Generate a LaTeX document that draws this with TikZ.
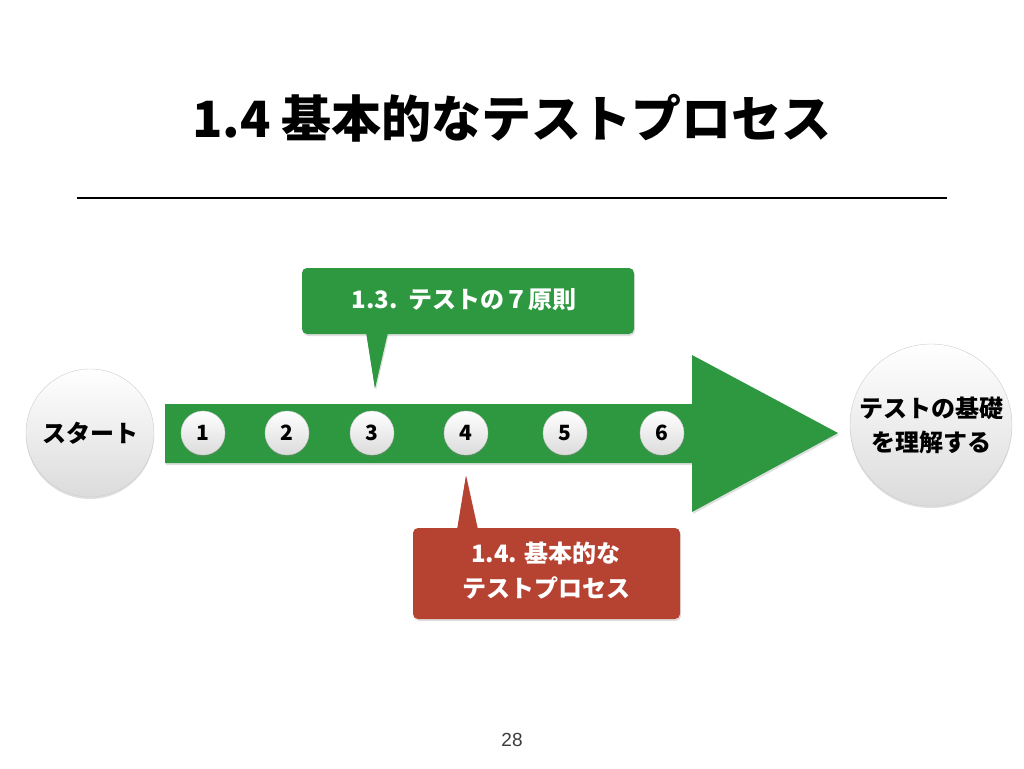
\documentclass[tikz,border=0pt]{standalone}
\usepackage{fontspec}
\setmainfont{Noto Sans CJK JP}
\newfontfamily\numfont{Liberation Sans}
\usetikzlibrary{shadows}
\definecolor{arrowgreen}{RGB}{46,152,64}
\definecolor{calloutred}{RGB}{182,66,50}
\definecolor{pagegray}{RGB}{60,60,60}
\tikzset{
  ball/.style={circle, draw=gray!40, line width=0.4pt, shading=axis, top color=white, bottom color=gray!28,
    drop shadow={opacity=0.25, shadow xshift=0pt, shadow yshift=-2pt}, font=\bfseries, text=black, align=center, inner sep=0pt},
  smallball/.style={ball, minimum size=44pt, font=\bfseries\fontsize{21}{23}\selectfont},
  bigtext/.style={font=\bfseries\fontsize{24}{34}\selectfont},
  callouttext/.style={text=white, font=\bfseries\fontsize{24}{35}\selectfont, align=center},
  shade box/.style={drop shadow={opacity=0.25, shadow xshift=1pt, shadow yshift=-2pt}}
}
\begin{document}
\begin{tikzpicture}[x=1pt,y=-1pt]
\useasboundingbox (0,0) rectangle (1024,768);
% title
\node (title) at (512,118) {\bfseries\fontsize{50}{56}\selectfont 1.4 基本的なテストプロセス};
\draw[line width=2pt] (77,198) -- (947,198);
% big arrow
\fill[arrowgreen, shade box] (165,404) -- (692,404) -- (692,355) -- (838,433) -- (692,512) -- (692,463) -- (165,463) -- cycle;
\coordinate (arrowtip) at (838,433);
% start and goal
\node[ball, minimum size=128pt, bigtext] (start) at (90,433) {スタート};
\node[ball, minimum size=162pt, bigtext] (goal) at (931,425) {テストの基礎\\を理解する};
% numbered steps
\node[smallball] (s1) at (203,433) {1};
\node[smallball] (s2) at (287,433) {2};
\node[smallball] (s3) at (372,433) {3};
\node[smallball] (s4) at (466,433) {4};
\node[smallball] (s5) at (565,433) {5};
\node[smallball] (s6) at (662,433) {6};
% green callout
\fill[arrowgreen, shade box] (366,332) -- (388,332) -- (375,388) -- cycle;
\fill[arrowgreen, rounded corners=5pt, shade box] (302,268) rectangle (634,334);
\fill[arrowgreen] (366,330) -- (388,330) -- (375,388) -- cycle;
\node[callouttext] (c13) at (464,300) {1.3.\ \ テストの７原則};
% red callout
\fill[calloutred, shade box] (457,530) -- (478,530) -- (466,476) -- cycle;
\fill[calloutred, rounded corners=5pt, shade box] (413,528) rectangle (680,619);
\fill[calloutred] (457,532) -- (478,532) -- (466,476) -- cycle;
\node[callouttext] (c14) at (546,571) {1.4. 基本的な\\テストプロセス};
% page number
\node[text=pagegray] (page) at (512,740) {\numfont\fontsize{19}{22}\selectfont 28};
\end{tikzpicture}
\end{document}
